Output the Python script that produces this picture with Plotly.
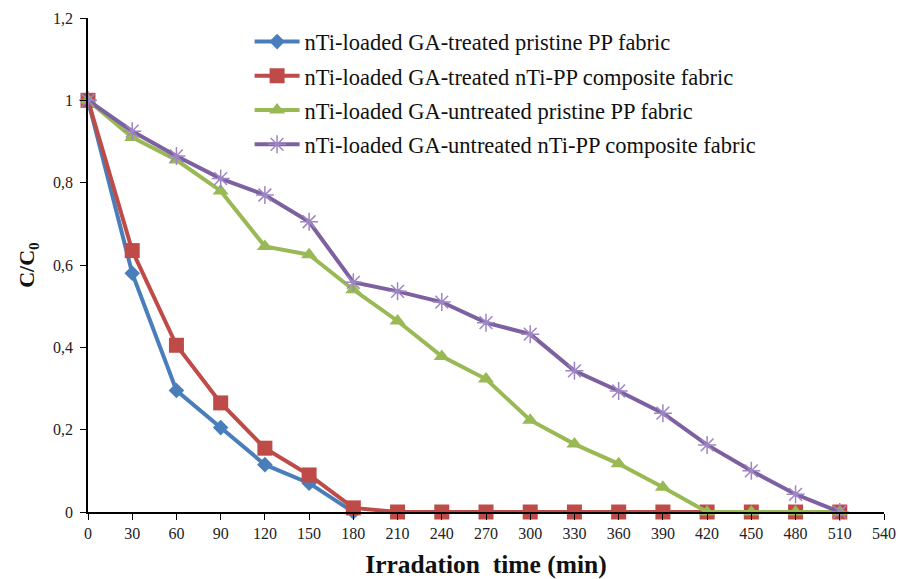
import plotly.graph_objects as go

time_min = [0, 30, 60, 90, 120, 150, 180, 210, 240, 270, 300, 330, 360, 390, 420, 450, 480, 510]

treated_pristine = [1.0, 0.58, 0.295, 0.205, 0.115, 0.07, 0.0]
treated_composite = [1.0, 0.635, 0.405, 0.265, 0.155, 0.09, 0.01, 0, 0, 0, 0, 0, 0, 0, 0, 0, 0, 0]
untreated_pristine = [1.0, 0.91, 0.855, 0.78, 0.645, 0.625, 0.54, 0.464, 0.378, 0.323, 0.223, 0.165, 0.117, 0.06, 0, 0, 0, 0]
untreated_composite = [1.0, 0.925, 0.865, 0.81, 0.77, 0.705, 0.558, 0.536, 0.51, 0.46, 0.432, 0.343, 0.294, 0.24, 0.163, 0.1, 0.043, 0]

names = [
    "nTi-loaded GA-treated pristine PP fabric",
    "nTi-loaded GA-treated nTi-PP composite fabric",
    "nTi-loaded GA-untreated pristine PP fabric",
    "nTi-loaded GA-untreated nTi-PP composite fabric",
]

x_ticks = list(range(0, 541, 30))
y_ticks = [0, 0.2, 0.4, 0.6, 0.8, 1.0, 1.2]
y_ticktext = ["0", "0,2", "0,4", "0,6", "0,8", "1", "1,2"]

serif = "Liberation Serif"

fig = go.Figure()

styles = [
    dict(color="#4A7EBB", symbol="diamond", size=12, mcolor="#4A7EBB", lw=0),
    dict(color="#BE4B48", symbol="square", size=15, mcolor="#BE4B48", lw=0),
    dict(color="#98B954", symbol="triangle-up", size=14, mcolor="#98B954", lw=0),
    dict(color="#7D60A0", symbol="asterisk-open", size=15, mcolor="#9E86C4", lw=1.5),
]
series = [treated_pristine, treated_composite, untreated_pristine, untreated_composite]

for i, (ys, st, nm) in enumerate(zip(series, styles, names)):
    fig.add_trace(go.Scatter(
        x=time_min[:len(ys)], y=ys, name=nm, mode="lines+markers",
        line=dict(color=st["color"], width=4),
        marker=dict(symbol=st["symbol"], size=st["size"], color=st["mcolor"],
                    line=dict(color=st["mcolor"], width=st["lw"])),
        cliponaxis=False, legendgroup=str(i),
    ))

fig.update_layout(
    width=919, height=579,
    margin=dict(l=88, r=35, t=18, b=67),
    plot_bgcolor="white", paper_bgcolor="white",
    font=dict(family=serif, color="#222", size=16),
    showlegend=True,
    legend=dict(x=0.203, y=0.995, xanchor="left", yanchor="top",
                font=dict(family=serif, size=22.5, color="#111"),
                bgcolor="rgba(0,0,0,0)", tracegroupgap=2, itemwidth=45),
    xaxis=dict(range=[0, 540], tickvals=x_ticks, ticktext=[str(v) for v in x_ticks],
               showline=True, linecolor="black", linewidth=1.5, ticks="outside",
               ticklen=6, tickcolor="black", showgrid=False, zeroline=False,
               automargin=False,
               tickfont=dict(family=serif, size=16),
               title=dict(text="<b>Irradation  time (min)</b>", font=dict(family=serif, size=25.5, color="#111"), standoff=16)),
    yaxis=dict(range=[0, 1.2], tickvals=y_ticks, ticktext=y_ticktext,
               showline=True, linecolor="black", linewidth=1.5, ticks="outside",
               ticklen=6, tickcolor="black", showgrid=False, zeroline=False,
               automargin=False,
               tickfont=dict(family=serif, size=16), ticklabelstandoff=4,
               title=dict(text="<b>C/C<sub>0</sub></b>", font=dict(family=serif, size=22, color="#111"), standoff=12)),
)

fig.write_html("out.html")
